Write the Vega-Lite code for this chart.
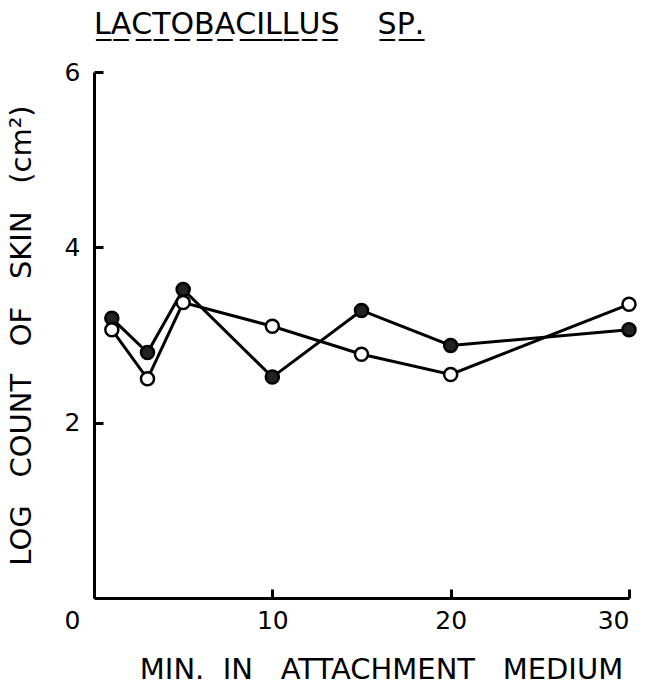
{
  "$schema": "https://vega.github.io/schema/vega-lite/v6.json",
  "autosize": "none",
  "width": 535,
  "height": 526,
  "padding": {"left": 94, "top": 72, "right": 18, "bottom": 89},
  "background": "white",
  "config": {
    "view": {"stroke": null},
    "font": "DejaVu Sans",
    "axis": {
      "grid": false,
      "domainColor": "black",
      "domainWidth": 3,
      "tickColor": "black",
      "tickWidth": 3,
      "tickSize": -9,
      "labelColor": "black",
      "labelFont": "DejaVu Sans",
      "labelFontSize": 25,
      "titleFont": "DejaVu Sans",
      "titleFontSize": 29,
      "titleFontWeight": "normal",
      "titleColor": "black"
    }
  },
  "title": {
    "text": "L̲A̲C̲T̲O̲B̲A̲C̲I̲L̲L̲U̲S̲\u00a0\u00a0\u00a0\u00a0S̲P̲.̲",
    "anchor": "start",
    "frame": "group",
    "fontSize": 30,
    "fontWeight": "normal",
    "font": "DejaVu Sans",
    "color": "black",
    "offset": 20
  },
  "data": {
    "values": [
      {"min": 1, "log": 3.19, "series": "filled"},
      {"min": 3, "log": 2.8, "series": "filled"},
      {"min": 5, "log": 3.52, "series": "filled"},
      {"min": 10, "log": 2.52, "series": "filled"},
      {"min": 15, "log": 3.28, "series": "filled"},
      {"min": 20, "log": 2.88, "series": "filled"},
      {"min": 30, "log": 3.06, "series": "filled"},
      {"min": 1, "log": 3.06, "series": "open"},
      {"min": 3, "log": 2.5, "series": "open"},
      {"min": 5, "log": 3.37, "series": "open"},
      {"min": 10, "log": 3.1, "series": "open"},
      {"min": 15, "log": 2.78, "series": "open"},
      {"min": 20, "log": 2.55, "series": "open"},
      {"min": 30, "log": 3.35, "series": "open"}
    ]
  },
  "encoding": {
    "x": {
      "field": "min",
      "type": "quantitative",
      "scale": {"domain": [0, 30], "nice": false},
      "axis": {
        "values": [0, 10, 20, 30],
        "title": "MIN.\u00a0\u00a0IN\u00a0\u00a0\u00a0ATTACHMENT\u00a0\u00a0\u00a0MEDIUM",
        "labelPadding": 19,
        "labelOffset": {"expr": "datum.value == 0 ? -30 : 0"},
        "titlePadding": 22,
        "titleX": 287
      }
    },
    "y": {
      "field": "log",
      "type": "quantitative",
      "scale": {"domain": [0, 6], "nice": false},
      "axis": {
        "values": [2, 4, 6],
        "title": "LOG\u00a0\u00a0\u00a0COUNT\u00a0\u00a0\u00a0OF\u00a0\u00a0\u00a0SKIN\u00a0\u00a0\u00a0(cm²)",
        "labelPadding": 23,
        "titlePadding": 28
      }
    }
  },
  "layer": [
    {
      "mark": {"type": "line", "color": "black", "strokeWidth": 3},
      "encoding": {"detail": {"field": "series"}}
    },
    {
      "mark": {"type": "point", "shape": "circle", "size": 170, "stroke": "black", "strokeWidth": 2.5, "opacity": 1},
      "encoding": {
        "fill": {
          "field": "series",
          "type": "nominal",
          "scale": {"domain": ["filled", "open"], "range": ["#222222", "white"]},
          "legend": null
        }
      }
    }
  ]
}
